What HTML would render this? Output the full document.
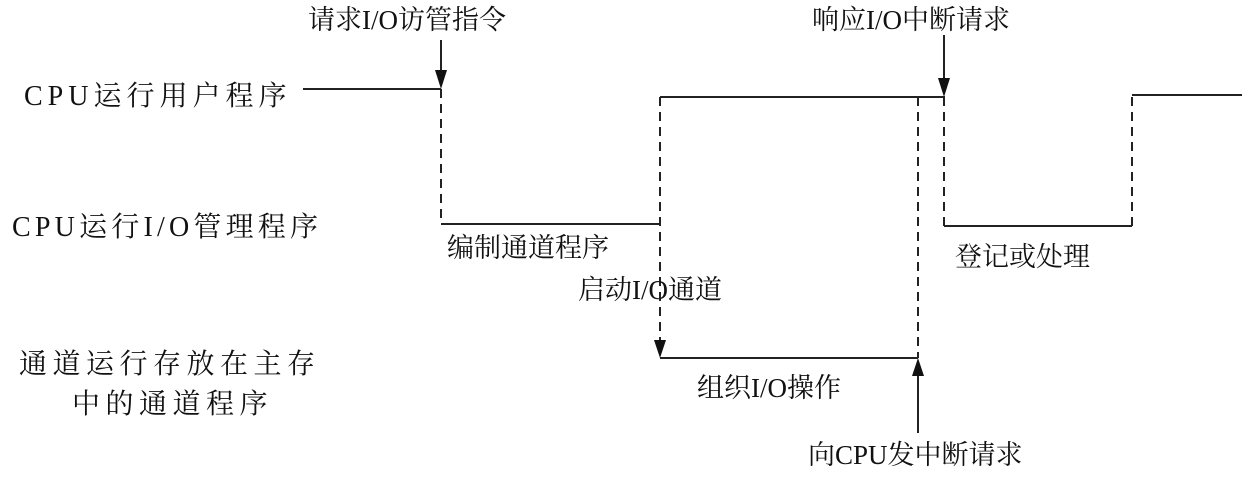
<!DOCTYPE html>
<html><head><meta charset="utf-8"><style>
html,body{margin:0;padding:0;background:#fff;}
svg text{font-family:"Liberation Serif","Noto Serif CJK SC",serif;font-size:27px;fill:#111;}
svg text.l{font-size:28px;}
</style></head><body>
<svg width="1242" height="474" viewBox="0 0 1242 474" xmlns="http://www.w3.org/2000/svg">
<g stroke="#222" stroke-width="2" fill="none">
<line x1="303" y1="89" x2="441" y2="89"/>
<line x1="441" y1="89" x2="441" y2="224" stroke-dasharray="9,6"/>
<line x1="441" y1="224" x2="660" y2="224"/>
<line x1="660" y1="97" x2="945" y2="97"/>
<line x1="660" y1="97" x2="660" y2="350" stroke-dasharray="9,6"/>
<line x1="660" y1="358" x2="918" y2="358"/>
<line x1="918" y1="97" x2="918" y2="358" stroke-dasharray="9,6"/>
<line x1="918" y1="433" x2="918" y2="372"/>
<line x1="944" y1="97" x2="944" y2="226" stroke-dasharray="9,6"/>
<line x1="944" y1="226" x2="1132" y2="226"/>
<line x1="1132" y1="226" x2="1132" y2="95" stroke-dasharray="9,6"/>
<line x1="1132" y1="95" x2="1242" y2="95"/>
<line x1="441" y1="40" x2="441" y2="75"/>
<line x1="944" y1="35" x2="944" y2="82"/>
</g>
<g fill="#111">
<polygon points="435,70 447,70 441,89"/>
<polygon points="938,78 950,78 944,97"/>
<polygon points="654,340 666,340 660,358"/>
<polygon points="912,376 924,376 918,358"/>
</g>
<text x="308" y="29">请求I/O访管指令</text>
<text x="812" y="29">响应I/O中断请求</text>
<text class="l" x="24" y="105" letter-spacing="5">CPU运行用户程序</text>
<text class="l" x="12" y="236" letter-spacing="4.2">CPU运行I/O管理程序</text>
<text x="447" y="257">编制通道程序</text>
<text x="578" y="299">启动I/O通道</text>
<text x="955" y="266">登记或处理</text>
<text class="l" x="19" y="373" letter-spacing="5.5">通道运行存放在主存</text>
<text class="l" x="72" y="413" letter-spacing="5.5">中的通道程序</text>
<text x="697" y="397">组织I/O操作</text>
<text x="808" y="464">向CPU发中断请求</text>
</svg>
</body></html>
